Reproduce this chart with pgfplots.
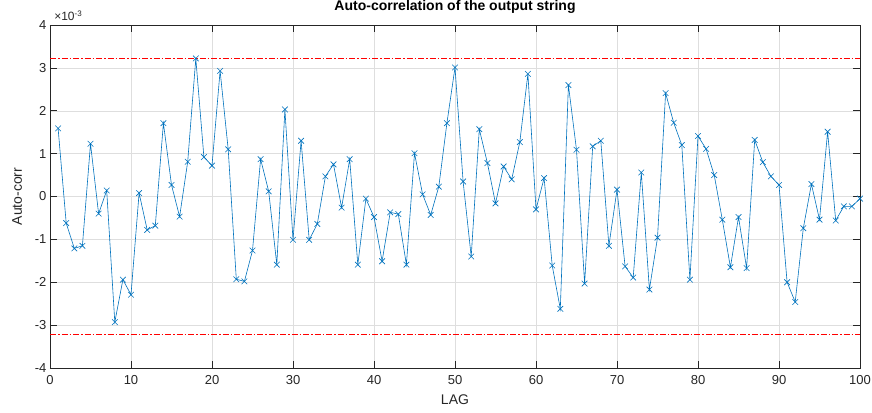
\documentclass[border=0pt]{standalone}
\usepackage{fontspec}
\setmainfont{Liberation Sans}
\usepackage{pgfplots}
\pgfplotsset{compat=1.18}
\definecolor{mblue}{rgb}{0,0.447,0.741}
\definecolor{maxis}{rgb}{0.15,0.15,0.15}
\begin{document}
\begin{tikzpicture}
\useasboundingbox (-50pt,-44pt) rectangle (822pt,368pt);
\begin{axis}[
  at={(0,0)}, anchor=south west,
  scale only axis, width=810pt, height=343pt,
  xmin=0, xmax=100, ymin=-4, ymax=4,
  xtick={0,10,...,100}, ytick={-4,-3,...,4},
  grid=major, major grid style={color=black!13, line width=0.5pt},
  axis line style={maxis, line width=0.6pt},
  tick style={maxis, line width=0.6pt},
  tick align=inside, major tick length=7pt,
  ticklabel style={font=\fontsize{13}{15}\selectfont, text=maxis},
  xticklabel shift=4pt,
  /pgf/number format/assume math mode=true,
  title={Auto-correlation of the output string},
  title style={at={(axis description cs:0.5,1.034)}, anchor=center,
    font=\fontsize{14}{16}\selectfont\bfseries},
  xlabel={LAG}, ylabel={Auto-corr},
  label style={font=\fontsize{14}{16}\selectfont, text=maxis},
  xlabel style={at={(axis description cs:0.5,-0.0933)}, anchor=center},
  ylabel style={at={(axis description cs:-0.0407,0.5)}, anchor=center},
  clip=false,
]
% limits (dash-dot red)
\addplot[red, line width=0.8pt, dash pattern=on 6pt off 2pt on 1.5pt off 2pt] coordinates {(0,3.22) (100,3.22)};
\addplot[red, line width=0.8pt, dash pattern=on 6pt off 2pt on 1.5pt off 2pt] coordinates {(0,-3.21) (100,-3.21)};
% auto-correlation, units of 1e-3
\addplot[mblue, line width=0.6pt, mark=x, mark size=4pt] table {
1 1.59
2 -0.62
3 -1.21
4 -1.15
5 1.23
6 -0.40
7 0.14
8 -2.93
9 -1.94
10 -2.29
11 0.08
12 -0.78
13 -0.68
14 1.71
15 0.27
16 -0.47
17 0.81
18 3.22
19 0.92
20 0.72
21 2.93
22 1.10
23 -1.93
24 -1.98
25 -1.26
26 0.87
27 0.12
28 -1.59
29 2.03
30 -1.01
31 1.30
32 -1.01
33 -0.64
34 0.47
35 0.75
36 -0.26
37 0.87
38 -1.59
39 -0.05
40 -0.48
41 -1.51
42 -0.37
43 -0.41
44 -1.59
45 1.01
46 0.05
47 -0.43
48 0.23
49 1.71
50 3.01
51 0.35
52 -1.40
53 1.57
54 0.78
55 -0.16
56 0.70
57 0.40
58 1.27
59 2.86
60 -0.30
61 0.43
62 -1.61
63 -2.62
64 2.60
65 1.09
66 -2.03
67 1.17
68 1.30
69 -1.15
70 0.16
71 -1.63
72 -1.89
73 0.56
74 -2.17
75 -0.96
76 2.41
77 1.72
78 1.20
79 -1.94
80 1.41
81 1.11
82 0.50
83 -0.54
84 -1.65
85 -0.48
86 -1.67
87 1.32
88 0.80
89 0.47
90 0.27
91 -2.00
92 -2.46
93 -0.74
94 0.29
95 -0.54
96 1.51
97 -0.56
98 -0.23
99 -0.23
100 -0.05
};
\node[anchor=base west, inner sep=0pt, text=maxis, font=\fontsize{12}{14}\selectfont]
  at (axis description cs:0.005,1.012) {×10\textsuperscript{-3}};
\end{axis}
\end{tikzpicture}
\end{document}
